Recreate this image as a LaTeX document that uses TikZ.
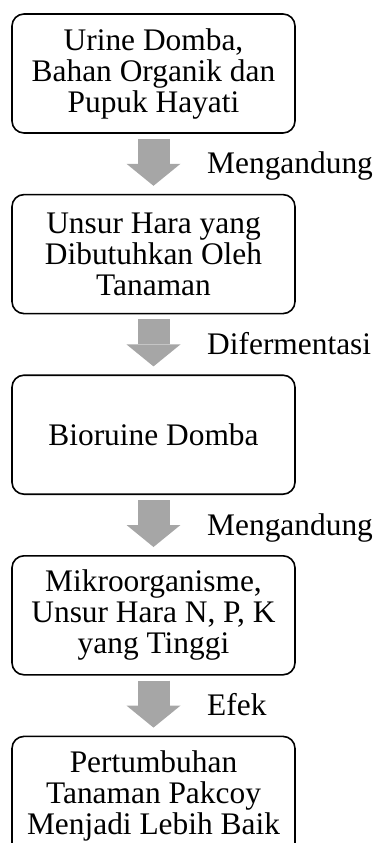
\documentclass[tikz,border=0pt]{standalone}
\usepackage{fontspec}
\setmainfont{Liberation Serif}
\usetikzlibrary{positioning,arrows.meta}

\begin{document}
\begin{tikzpicture}[x=1pt,y=-1pt,
  box/.style={draw,line width=1.6pt,rounded corners=12pt,minimum width=283pt,minimum height=119pt,align=center,inner sep=0pt,font=\fontsize{31.4}{31}\selectfont},
  lbl/.style={anchor=base west,inner sep=0pt,font=\fontsize{31.4}{31}\selectfont},
  fat/.style={draw=black!35,line width=32pt,-{Triangle[width=54pt,length=22pt,line width=0pt]},shorten <=5pt,shorten >=8pt}]
\useasboundingbox (0,0) rectangle (374,843);
\node[box] (1) at (153.5,73.5) {Urine Domba,\\Bahan Organik dan\\Pupuk Hayati};
\node[box,below=60pt of 1] (2) {Unsur Hara yang\\Dibutuhkan Oleh\\Tanaman};
\node[box,below=60pt of 2] (3) {Bioruine Domba};
\node[box,below=60pt of 3] (4) {Mikroorganisme,\\Unsur Hara N, P, K\\yang Tinggi};
\node[box,below=60pt of 4] (5) {Pertumbuhan\\Tanaman Pakcoy\\Menjadi Lebih Baik};
\draw[fat] (1) -- (2);
\draw[fat] (2) -- (3);
\draw[fat] (3) -- (4);
\draw[fat] (4) -- (5);
\node[lbl] (m1) at ([xshift=53.5pt,yshift=20pt]2.north) {Mengandung};
\node[lbl] (m2) at ([xshift=53.5pt,yshift=20pt]3.north) {Difermentasi};
\node[lbl] (m3) at ([xshift=53.5pt,yshift=20pt]4.north) {Mengandung};
\node[lbl] (m4) at ([xshift=53.5pt,yshift=20pt]5.north) {Efek};
\end{tikzpicture}
\end{document}
